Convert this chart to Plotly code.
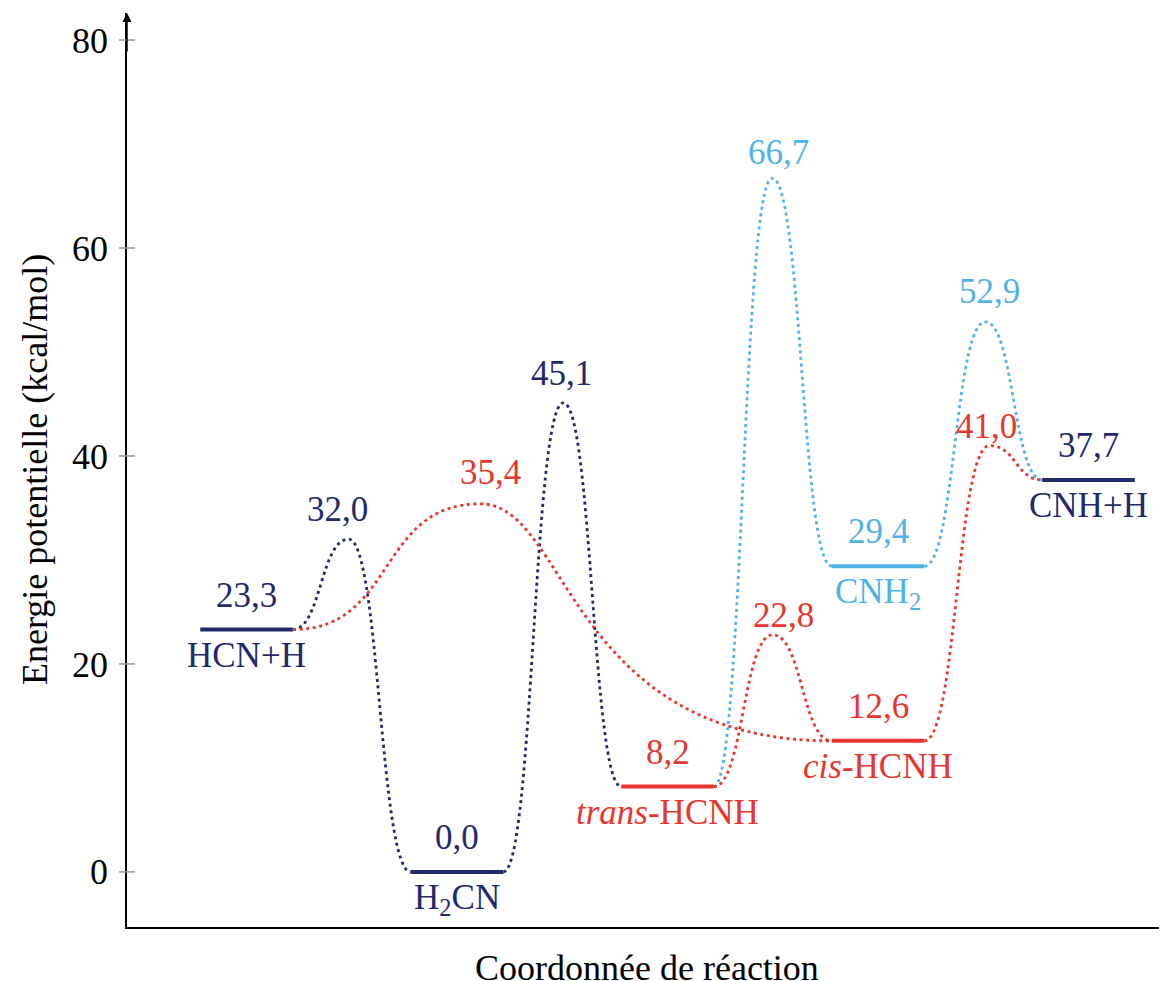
import plotly.graph_objects as go

# Energy levels (kcal/mol)
level_names = ['HCN+H', 'H<sub>2</sub>CN', '<i>trans</i>-HCNH', '<i>cis</i>-HCNH', 'CNH<sub>2</sub>', 'CNH+H']
level_energy = [23.3, 0.0, 8.2, 12.6, 29.4, 37.7]
level_pos = [1, 2, 3, 4, 4, 5]
level_group = ['navy', 'navy', 'red', 'red', 'blue', 'navy']

# Transition states: from level, to level, energy, position along the coordinate
ts_from = [0, 1, 0, 2, 2, 4, 3]
ts_to = [1, 2, 3, 4, 3, 5, 5]
ts_energy = [32.0, 45.1, 35.4, 66.7, 22.8, 52.9, 41.0]
ts_pos = [1.485, 2.505, 2.11, 3.497, 3.50, 4.51, 4.53]
ts_group = ['navy', 'navy', 'red', 'blue', 'red', 'blue', 'red']

y_ticks = [0, 20, 40, 60, 80]

COLORS = {'navy': '#1f2a6b', 'red': '#e8352e', 'blue': '#4fb3e8'}
FONT = 'Liberation Serif'
FS = 35
HALF = 0.22  # half width of a level bar
# curve handle fractions (leaving the start level, leaving the TS towards the end level)
ts_handle_in = [0.5, 0.5, 0.55, 0.5, 0.5, 0.5, 0.5]
ts_handle_out = [(0.5, 0.5), (0.5, 0.5), (0.25, 0.75), (0.5, 0.5), (0.5, 0.5), (0.5, 0.5), (0.5, 0.5)]
# label nudges in pixels for the transition state values
ts_label_dx = [-11, -2, 10, 6, 11, 4, -3]
ts_label_dy = [8, 8, 10, 4, -2, 9, -2]


def fmt(v):
    return f'{v:.1f}'.replace('.', ',')


fig = go.Figure()

# dotted connectors: two horizontal-tangent cubic segments meeting at the TS
for i in range(len(ts_energy)):
    a, b, e, p, g = ts_from[i], ts_to[i], ts_energy[i], ts_pos[i], ts_group[i]
    x0, y0 = level_pos[a] + HALF, level_energy[a]
    x1, y1 = level_pos[b] - HALF, level_energy[b]
    h = ts_handle_in[i] * (p - x0)
    k0, k1 = ts_handle_out[i][0] * (x1 - p), ts_handle_out[i][1] * (x1 - p)
    path = (f'M {x0},{y0} C {x0 + h},{y0} {p - h},{e} {p},{e} '
            f'C {p + k0},{e} {x1 - k1},{y1} {x1},{y1}')
    fig.add_shape(type='path', path=path, xref='x', yref='y',
                  line=dict(color=COLORS[g], width=2.8, dash='3px,3.6px'))

    fig.add_annotation(x=p, y=e, text=fmt(e), showarrow=False, yanchor='bottom',
                       xshift=ts_label_dx[i], yshift=ts_label_dy[i],
                       font=dict(family=FONT, size=FS, color=COLORS[g]))

# solid levels
for name, e, p, g in zip(level_names, level_energy, level_pos, level_group):
    fig.add_trace(go.Scatter(
        x=[p - HALF, p + HALF], y=[e, e], mode='lines',
        line=dict(color=COLORS[g], width=4), hoverinfo='skip', showlegend=False
    ))
    fig.add_annotation(x=p, y=e, text=fmt(e), showarrow=False,
                       yanchor='bottom', yshift=13,
                       font=dict(family=FONT, size=FS, color=COLORS[g]))
    fig.add_annotation(x=p, y=e, text=name, showarrow=False,
                       yanchor='top', yshift=-4,
                       font=dict(family=FONT, size=FS, color=COLORS[g]))

# tick marks crossing the y axis
for v in y_ticks:
    fig.add_shape(type='line', xref='paper', yref='y', xsizemode='pixel', xanchor=0,
                  x0=-8, x1=8, y0=v, y1=v, line=dict(color='#999999', width=1.5))

# arrow head on the y axis
fig.add_annotation(x=0, y=1.0, xref='paper', yref='paper', ax=0, ay=40,
                   text='', showarrow=True, arrowhead=2, arrowsize=1.2,
                   arrowwidth=1.5, arrowcolor='black')

# axis titles
fig.add_annotation(x=0.5, y=0, xref='paper', yref='paper', yshift=-41,
                   text='Coordonnée de réaction', showarrow=False, yanchor='middle',
                   font=dict(family=FONT, size=FS + 1, color='black'))
fig.add_annotation(x=0, y=0.5, xref='paper', yref='paper', xshift=-92,
                   text='Energie potentielle (kcal/mol)', showarrow=False, textangle=-90,
                   xanchor='center', yanchor='middle',
                   font=dict(family=FONT, size=FS + 1, color='black'))

# the page body adds an 8px offset, so margins are trimmed to match
fig.update_layout(
    width=1167, height=981,
    paper_bgcolor='white', plot_bgcolor='white',
    margin=dict(l=119, r=8, t=5, b=62, autoexpand=False),
    font=dict(family=FONT, size=FS, color='black'),
    xaxis=dict(
        range=[0.432, 5.373], showgrid=False, zeroline=False, automargin=False,
        showticklabels=False, ticks='', showline=True,
        linecolor='black', linewidth=1.5,
    ),
    yaxis=dict(
        range=[-5.3, 82.6], showgrid=False, zeroline=False, automargin=False,
        tickvals=y_ticks, ticks='', showline=True,
        linecolor='black', linewidth=1.5, ticklabelstandoff=10,
        tickfont=dict(family=FONT, size=FS + 1),
    ),
)
fig.update_xaxes(fixedrange=True)
fig.update_yaxes(fixedrange=True)

fig.write_html('out.html')
